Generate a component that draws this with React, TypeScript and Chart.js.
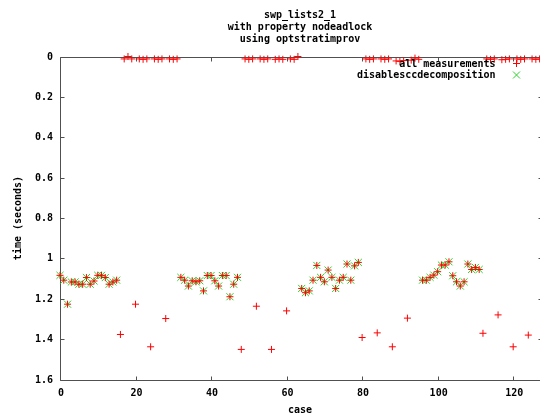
import React, { useEffect, useRef } from "react";
import { Chart, registerables } from "chart.js";

Chart.register(...registerables);

const titleLines = ["swp_lists2_1", "with property nodeadlock", "using optstratimprov"];
const xAxisTitle = "case";
const yAxisTitle = "time (seconds)";
const legendLabels = ["all measurements", "disablesccdecomposition"];

const xTicks = [0, 20, 40, 60, 80, 100, 120];
const xTickLabels = ["0", "20", "40", "60", "80", "100", "120"];
const yTicks = [0, 0.2, 0.4, 0.6, 0.8, 1.0, 1.2, 1.4, 1.6];
const yTickLabels = ["0", "0.2", "0.4", "0.6", "0.8", "1", "1.2", "1.4", "1.6"];

// all measurements: time per case (index = case number 0..127)
const allTimes = [
  1.084, 1.108, 1.227, 1.117, 1.117, 1.128, 1.128, 1.095,
  1.128, 1.112, 1.084, 1.084, 1.095, 1.128, 1.117, 1.108,
  1.377, 0.012, 0.0, 0.012, 1.227, 0.012, 0.014, 0.012,
  1.438, 0.012, 0.014, 0.012, 1.298, 0.012, 0.014, 0.012,
  1.094, 1.108, 1.137, 1.111, 1.116, 1.111, 1.161, 1.085,
  1.085, 1.111, 1.137, 1.085, 1.085, 1.19, 1.128, 1.094,
  1.451, 0.012, 0.014, 0.012, 1.237, 0.012, 0.014, 0.012,
  1.451, 0.014, 0.012, 0.014, 1.26, 0.012, 0.014, 0.0,
  1.149, 1.17, 1.161, 1.108, 1.035, 1.094, 1.116, 1.058,
  1.094, 1.149, 1.108, 1.094, 1.028, 1.108, 1.037, 1.02,
  1.392, 0.012, 0.014, 0.012, 1.369, 0.012, 0.014, 0.012,
  1.438, 0.022, 0.024, 0.02, 1.296, 0.018, 0.008, 0.014,
  1.108, 1.108, 1.094, 1.083, 1.066, 1.033, 1.033, 1.017,
  1.086, 1.116, 1.137, 1.116, 1.028, 1.055, 1.045, 1.055,
  1.371, 0.012, 0.014, 0.012, 1.28, 0.016, 0.014, 0.012,
  1.438, 0.012, 0.014, 0.012, 1.38, 0.012, 0.014, 0.012,
];

// disablesccdecomposition
const sccCases = [
  0, 1, 2, 3, 4, 5, 6, 7, 8, 9, 10, 11, 12, 13, 14, 15,
  32, 33, 34, 35, 36, 37, 38, 39, 40, 41, 42, 43, 44, 45, 46, 47,
  64, 65, 66, 67, 68, 69, 70, 71, 72, 73, 74, 75, 76, 77, 78, 79,
  96, 97, 98, 99, 100, 101, 102, 103, 104, 105, 106, 107, 108, 109, 110, 111,
];
const sccTimes = [
  1.084, 1.108, 1.227, 1.117, 1.117, 1.128, 1.128, 1.095,
  1.128, 1.112, 1.084, 1.084, 1.095, 1.128, 1.117, 1.108,
  1.094, 1.108, 1.137, 1.111, 1.116, 1.111, 1.161, 1.085,
  1.085, 1.111, 1.137, 1.085, 1.085, 1.19, 1.128, 1.094,
  1.149, 1.17, 1.161, 1.108, 1.035, 1.094, 1.116, 1.058,
  1.094, 1.149, 1.108, 1.094, 1.028, 1.108, 1.037, 1.02,
  1.108, 1.108, 1.094, 1.083, 1.066, 1.033, 1.033, 1.017,
  1.086, 1.116, 1.137, 1.116, 1.028, 1.055, 1.045, 1.055,
];

const RED = "#ff0000";
const GREEN = "rgb(40,210,40)";
const BORDER = "#505050";
const FONT = "bold 10px 'DejaVu Sans Mono', monospace";

const framePlugin = {
  id: "gnuframe",
  beforeDatasetsDraw(chart: any) {
    const ctx = chart.ctx;
    const { left, right, top, bottom } = chart.chartArea;
    const xs = chart.scales.x;
    const ys = chart.scales.y;
    const L = Math.round(left) + 0.5;
    const R = Math.round(right) + 0.5;
    const T = Math.round(top) + 0.5;
    const B = Math.round(bottom) + 0.5;
    const tl = 4;
    ctx.save();
    ctx.strokeStyle = BORDER;
    ctx.lineWidth = 1;
    ctx.beginPath();
    ctx.moveTo(L, T);
    ctx.lineTo(R, T);
    ctx.lineTo(R, B);
    ctx.lineTo(L, B);
    ctx.closePath();
    ctx.stroke();
    ctx.beginPath();
    xTicks.forEach((v) => {
      const px = Math.round(xs.getPixelForValue(v)) + 0.5;
      ctx.moveTo(px, B);
      ctx.lineTo(px, B - tl);
      ctx.moveTo(px, T);
      ctx.lineTo(px, T + tl);
    });
    yTicks.forEach((v) => {
      const py = Math.round(ys.getPixelForValue(v)) + 0.5;
      ctx.moveTo(L, py);
      ctx.lineTo(L + tl, py);
      ctx.moveTo(R, py);
      ctx.lineTo(R - tl, py);
    });
    ctx.stroke();
    ctx.restore();
  },
  afterDraw(chart: any) {
    const ctx = chart.ctx;
    const { bottom } = chart.chartArea;
    const xs = chart.scales.x;
    const ys = chart.scales.y;
    ctx.save();
    ctx.fillStyle = "#000";
    ctx.font = FONT;
    ctx.textBaseline = "middle";
    ctx.textAlign = "center";
    const cx = 300;
    titleLines.forEach((t, i) => ctx.fillText(t, cx, 15.5 + i * 12));
    xTicks.forEach((v, i) => {
      ctx.fillText(xTickLabels[i], xs.getPixelForValue(v) + 1, bottom + 13.5);
    });
    ctx.fillText(xAxisTitle, cx, 410);
    ctx.textAlign = "right";
    yTicks.forEach((v, i) => {
      ctx.fillText(yTickLabels[i], 53, ys.getPixelForValue(v) + 0.5);
    });
    ctx.save();
    ctx.translate(18, 218);
    ctx.rotate(-Math.PI / 2);
    ctx.textAlign = "center";
    ctx.fillText(yAxisTitle, 0, 0);
    ctx.restore();
    ctx.textAlign = "right";
    ctx.fillText(legendLabels[0], 495.5, 64);
    ctx.fillText(legendLabels[1], 495.5, 75.5);
    ctx.lineWidth = 1;
    ctx.strokeStyle = RED;
    ctx.beginPath();
    ctx.moveTo(513, 63.5);
    ctx.lineTo(520, 63.5);
    ctx.moveTo(516.5, 60);
    ctx.lineTo(516.5, 67);
    ctx.stroke();
    ctx.strokeStyle = GREEN;
    ctx.beginPath();
    ctx.moveTo(513, 71.5);
    ctx.lineTo(520, 78.5);
    ctx.moveTo(520, 71.5);
    ctx.lineTo(513, 78.5);
    ctx.stroke();
    ctx.restore();
  },
};

export default function App() {
  const ref = useRef<HTMLCanvasElement | null>(null);
  useEffect(() => {
    if (!ref.current) return;
    const allData = allTimes.map((t, i) => ({ x: i, y: t }));
    const sccData = sccCases.map((c, i) => ({ x: c, y: sccTimes[i] }));
    const chart = new Chart(ref.current, {
      type: "scatter",
      data: {
        datasets: [
          {
            label: legendLabels[0],
            data: allData,
            pointStyle: "cross",
            pointRadius: 3.5,
            pointHoverRadius: 3.5,
            borderColor: RED,
            backgroundColor: RED,
            pointBorderWidth: 1,
            borderWidth: 1,
            clip: false,
          } as any,
          {
            label: legendLabels[1],
            data: sccData,
            pointStyle: "crossRot",
            pointRadius: 5,
            pointHoverRadius: 5,
            borderColor: GREEN,
            backgroundColor: GREEN,
            pointBorderWidth: 1,
            borderWidth: 1,
            clip: false,
          } as any,
        ],
      },
      options: {
        animation: false,
        responsive: false,
        devicePixelRatio: 1,
        events: [],
        layout: { autoPadding: false, padding: { left: 60, top: 56.5, right: 0.5, bottom: 37.5 } },
        plugins: {
          legend: { display: false },
          title: { display: false },
          tooltip: { enabled: false },
        },
        scales: {
          x: { type: "linear", min: 0, max: 127.5, display: false },
          y: { type: "linear", min: 0, max: 1.6, reverse: true, display: false },
        },
      },
      plugins: [framePlugin],
    });
    return () => chart.destroy();
  }, []);
  return (
    <div
      style={{
        position: "fixed",
        left: 0,
        top: 0,
        width: 540,
        height: 417,
        overflow: "hidden",
        background: "#fff",
      }}
    >
      <canvas ref={ref} width={542} height={417} style={{ display: "block" }} />
    </div>
  );
}
